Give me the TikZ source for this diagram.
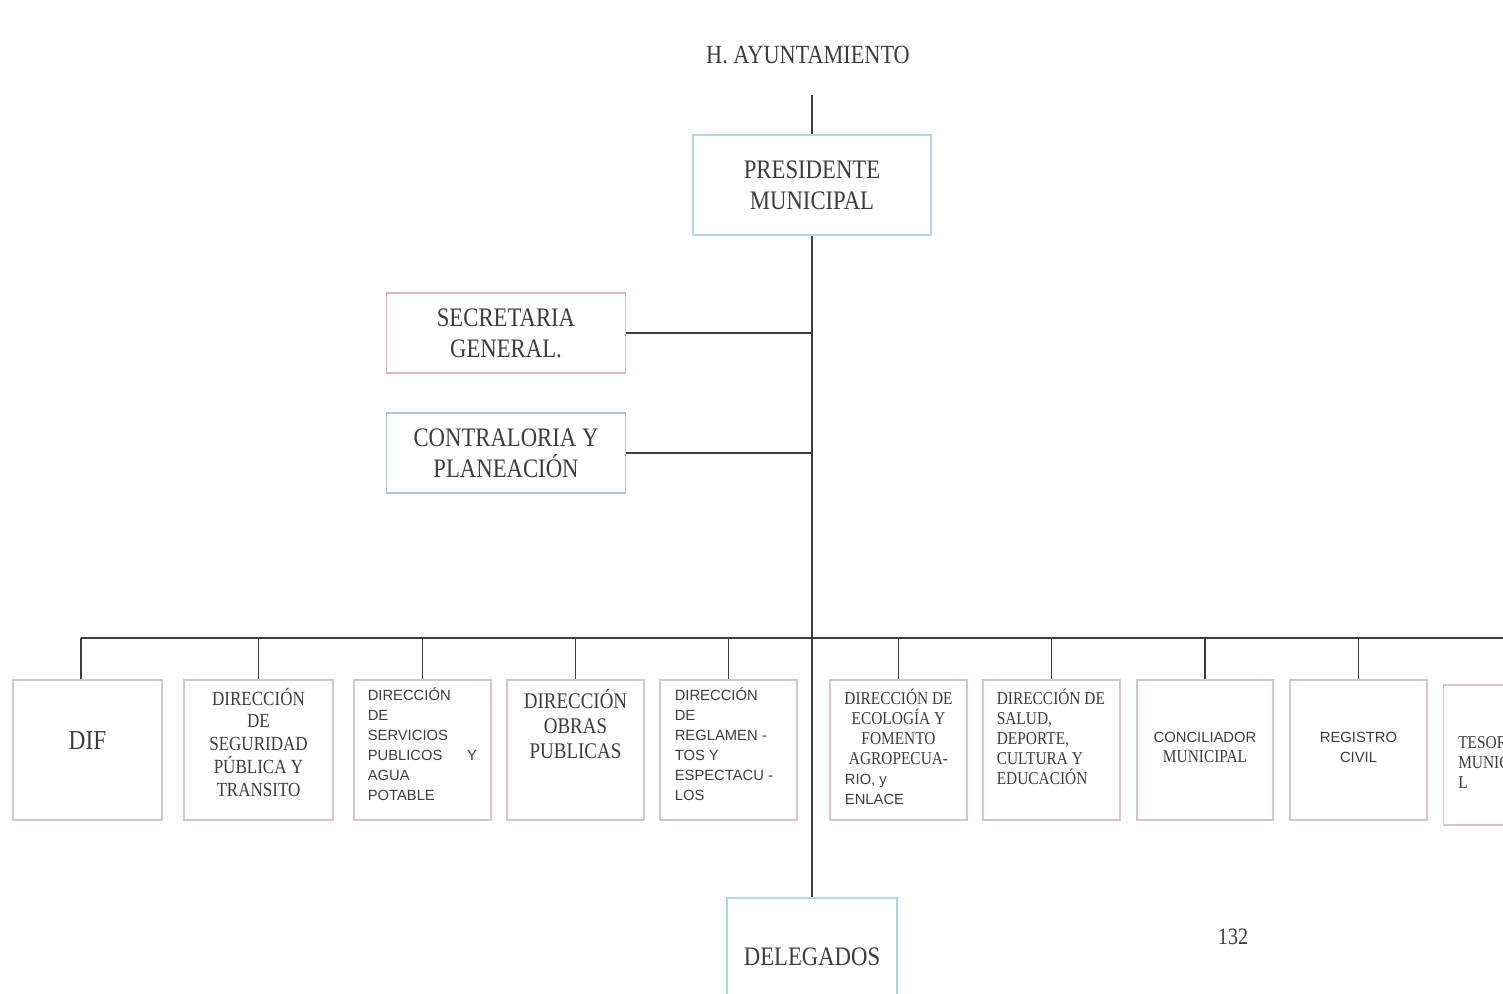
\documentclass[tikz,border=0pt]{standalone}
\usepackage{fontspec}
\setmainfont{Liberation Serif}[FakeStretch=0.85]
\newfontfamily\arl{Liberation Sans}
\usetikzlibrary{positioning}

\definecolor{ink}{HTML}{3C3C3C}
\definecolor{cyanline}{HTML}{AFDAE2}
\definecolor{pinkline}{HTML}{E6B2C0}
\definecolor{blueline}{HTML}{B2C2D8}
\definecolor{mauveline}{HTML}{D8C4D0}

\newcommand\ttlfont{\fontsize{7.45}{8.6}\selectfont}
\newcommand\bossfont{\fontsize{7.6}{8.8}\selectfont}
\newcommand\diffont{\fontsize{7.8}{9}\selectfont}
\newcommand\segfont{\fontsize{5.7}{6.5}\selectfont}
\newcommand\obrafont{\fontsize{6.35}{7.1}\selectfont}
\newcommand\smallserif{\rmfamily\fontsize{5.15}{5.7}\selectfont}
\newcommand\unitsans{\arl\fontsize{4.2}{5.7}\selectfont}
\newcommand\pagefont{\fontsize{6.7}{8}\selectfont}

\begin{document}
\begin{tikzpicture}[x=0.01cm,y=-0.01cm]
\tikzset{
  every node/.style={inner sep=0pt,text=ink},
  wire/.style={draw=ink,line width=0.45pt},
  box/.style={draw=#1,line width=0.5pt},
  headbox/.style={box=#1,minimum width=2.39cm,minimum height=0.8cm,align=center,font=\bossfont},
  unitbox/.style={box=mauveline,minimum height=1.4cm,minimum width=#1},
}
\useasboundingbox (0,0) rectangle (1503,994);
\clip (0,0) rectangle (1503,994);

% top of the chart
\node[font=\ttlfont] (ayto) at (808,55) {H. AYUNTAMIENTO};
\node[headbox=cyanline,minimum width=2.38cm,minimum height=1.0cm] (pres) at (812,185) {PRESIDENTE\\MUNICIPAL};
\node[headbox=pinkline] (secre) at (506,333) {SECRETARIA\\GENERAL.};
\node[headbox=blueline] (contra) at (506,453) {CONTRALORIA Y\\PLANEACIÓN};
\node[headbox=cyanline,minimum width=1.70cm,minimum height=1.18cm] (deleg) at (812,957) {DELEGADOS};

% units
\node[unitbox=1.49cm] (dif) at (87.5,750) {};
\node[unitbox=1.49cm] (seg) at (258.5,750) {};
\node[unitbox=1.37cm] (serv) at (422.5,750) {};
\node[unitbox=1.37cm] (obras) at (575.5,750) {};
\node[unitbox=1.37cm] (regl) at (728.5,750) {};
\node[unitbox=1.37cm] (eco) at (898.5,750) {};
\node[unitbox=1.37cm] (salud) at (1051.5,750) {};
\node[unitbox=1.36cm] (conc) at (1205,750) {};
\node[unitbox=1.37cm] (regis) at (1358.5,750) {};
\node[unitbox=1.37cm] (teso) at (1512,755) {};

\node[below=0.52cm of dif.north,font=\diffont] (dif-t) {DIF};
\node[below=0.08cm of seg.north,align=center,font=\segfont] (seg-t) {DIRECCIÓN\\DE\\SEGURIDAD\\PÚBLICA Y\\TRANSITO};
\node[below right=0.08cm and 0.14cm of serv.north west,text width=1.09cm,align=left,font=\unitsans] (serv-t) {DIRECCIÓN\\DE\\SERVICIOS\\PUBLICOS\hfill Y\\AGUA\\POTABLE};
\node[below=0.10cm of obras.north,align=center,font=\obrafont] (obras-t) {DIRECCIÓN\\OBRAS\\PUBLICAS};
\node[below right=0.08cm and 0.15cm of regl.north west,align=left,font=\unitsans] (regl-t) {DIRECCIÓN\\DE\\REGLAMEN -\\TOS Y\\ESPECTACU -\\LOS};
\node[below=0.09cm of eco.north,align=center,font=\smallserif] (eco-t) {DIRECCIÓN DE\\ECOLOGÍA Y\\FOMENTO\\AGROPECUA-\\\makebox[1.07cm][l]{\unitsans RIO, y}\\\makebox[1.07cm][l]{\unitsans ENLACE}};
\node[below right=0.09cm and 0.14cm of salud.north west,align=left,font=\smallserif] (salud-t) {DIRECCIÓN DE\\SALUD,\\DEPORTE,\\CULTURA Y\\EDUCACIÓN};
\node[below=0.52cm of conc.north,align=center,font=\unitsans] (conc-t) {CONCILIADOR\\{\smallserif MUNICIPAL}};
\node[below=0.52cm of regis.north,align=center,font=\unitsans] (regis-t) {REGISTRO\\CIVIL};
\node[below right=0.52cm and 0.15cm of teso.north west,align=left,font=\smallserif] (teso-t) {TESORERIA\\MUNICIPA\\L};

\node[font=\pagefont] (pg) at (1233,937) {132};

% connectors
\coordinate (busR) at (1503,638);
\coordinate (difTop) at ([xshift=-0.065cm]dif.north);
\draw[wire] ([yshift=-0.3cm]ayto.south -| pres.north) -- (pres.north);
\draw[wire] (pres.south) -- (deleg.north);
\draw[wire] (secre.east) -- (secre.east -| pres.south);
\draw[wire] (contra.east) -- (contra.east -| pres.south);
\draw[wire] (difTop |- busR) -- (busR);
\draw[wire] (difTop) -- (difTop |- busR);
\foreach \u in {seg,serv,obras,regl,eco,salud,conc,regis,teso}
  \draw[wire] (\u.north) -- (\u.north |- busR);
\end{tikzpicture}
\end{document}
